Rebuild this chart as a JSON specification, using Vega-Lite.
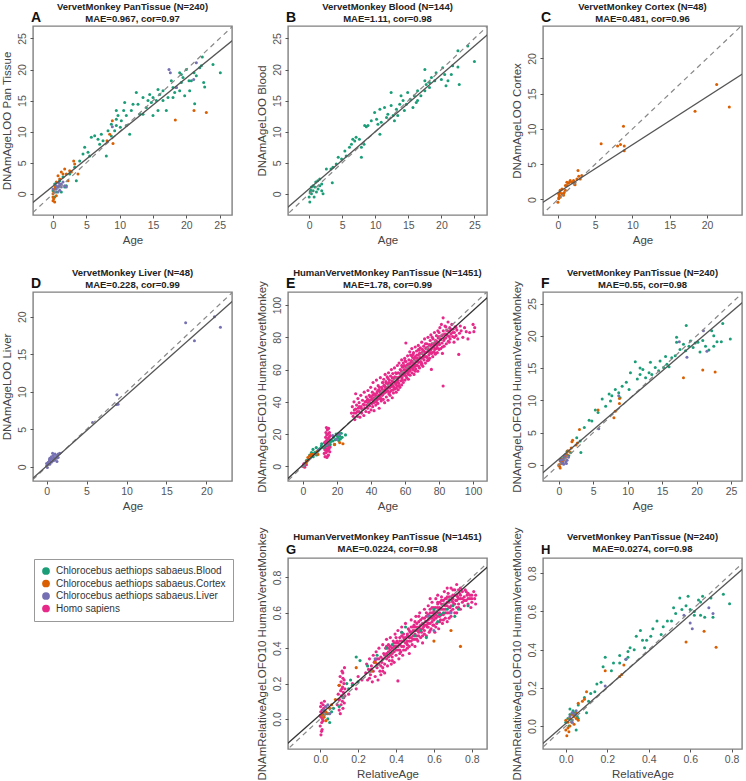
{
"$schema":"https://vega.github.io/schema/vega-lite/v6.json",
"padding":{"left":0,"top":0,"right":2,"bottom":0},
"background":"white",
"config":{
"view":{"stroke":"#808080","strokeWidth":1.4},
"font":"Liberation Sans",
"axis":{"domain":false,"grid":false,"tickColor":"#555","labelColor":"#555","titleColor":"#444","labelFont":"Liberation Sans","titleFont":"Liberation Sans","labelFontSize":10.5,"titleFontSize":11.5,"titleFontWeight":"normal","labelOverlap":false,"labelFlush":false},
"axisX":{"tickSize":3,"labelPadding":2,"titlePadding":4},
"axisY":{"tickSize":3,"labelAngle":-90,"labelAlign":"center","labelBaseline":"bottom","labelPadding":3,"titlePadding":5,"titleLimit":400},
"title":{"font":"Liberation Sans","fontSize":9.5,"fontWeight":"bold","color":"#222","offset":3,"lineHeight":12,"anchor":"middle"}
},
"datasets":{
"lines":[
{"panel":"A","kind":"identity","x":-5,"y":-5},{"panel":"A","kind":"identity","x":30,"y":30},{"panel":"A","kind":"fit","x":-5,"y":-3.1},{"panel":"A","kind":"fit","x":30,"y":27.35},
{"panel":"B","kind":"identity","x":-5,"y":-5},{"panel":"B","kind":"identity","x":30,"y":30},{"panel":"B","kind":"fit","x":-5,"y":-3.8},{"panel":"B","kind":"fit","x":30,"y":28.4},
{"panel":"C","kind":"identity","x":-5,"y":-5},{"panel":"C","kind":"identity","x":30,"y":30},{"panel":"C","kind":"fit","x":-5,"y":-2.43},{"panel":"C","kind":"fit","x":30,"y":21.37},
{"panel":"D","kind":"identity","x":-5,"y":-5},{"panel":"D","kind":"identity","x":30,"y":30},{"panel":"D","kind":"fit","x":-5,"y":-4.63},{"panel":"D","kind":"fit","x":30,"y":28.45},
{"panel":"E","kind":"identity","x":-20,"y":-20},{"panel":"E","kind":"identity","x":120,"y":120},{"panel":"E","kind":"fit","x":-20,"y":-18.2},{"panel":"E","kind":"fit","x":120,"y":115.8},
{"panel":"F","kind":"identity","x":-5,"y":-5},{"panel":"F","kind":"identity","x":30,"y":30},{"panel":"F","kind":"fit","x":-5,"y":-3.65},{"panel":"F","kind":"fit","x":30,"y":28.2},
{"panel":"G","kind":"identity","x":-0.3,"y":-0.3},{"panel":"G","kind":"identity","x":1,"y":1},{"panel":"G","kind":"fit","x":-0.3,"y":-0.26},{"panel":"G","kind":"fit","x":1,"y":0.971},
{"panel":"H","kind":"identity","x":-0.3,"y":-0.3},{"panel":"H","kind":"identity","x":1,"y":1},{"panel":"H","kind":"fit","x":-0.3,"y":-0.271},{"panel":"H","kind":"fit","x":1,"y":0.961}
],
"A":[
{"t":"B","x":25.1,"y":19.5},{"t":"B","x":24,"y":20.8},{"t":"B","x":22.4,"y":22},{"t":"B","x":22.6,"y":17.9},{"t":"B","x":22.75,"y":17.2},{"t":"B","x":21.15,"y":19.5},{"t":"B","x":21.25,"y":14.5},{"t":"B","x":20.4,"y":18.2},{"t":"B","x":20.5,"y":16.6},{"t":"B","x":20,"y":20},{"t":"B","x":19.5,"y":18.7},{"t":"B","x":19.25,"y":17.9},{"t":"B","x":19,"y":19.5},{"t":"B","x":18.5,"y":17.1},{"t":"B","x":18.25,"y":16.3},{"t":"B","x":17.75,"y":18.2},{"t":"B","x":17.25,"y":15.5},{"t":"B","x":18,"y":15.5},{"t":"B","x":16.5,"y":16.6},{"t":"B","x":16,"y":16},{"t":"B","x":15.75,"y":16.8},{"t":"B","x":15.5,"y":15},{"t":"B","x":15,"y":15.5},{"t":"B","x":14.75,"y":14.7},{"t":"B","x":14.25,"y":15},{"t":"B","x":14,"y":13.9},{"t":"B","x":13.5,"y":15.5},{"t":"B","x":13,"y":12.8},{"t":"B","x":12.5,"y":16.3},{"t":"B","x":12,"y":14.4},{"t":"B","x":11.75,"y":13.4},{"t":"B","x":11,"y":12.6},{"t":"B","x":10.75,"y":14.7},{"t":"B","x":10.6,"y":13.4},{"t":"B","x":10.25,"y":11.75},{"t":"B","x":10.1,"y":10.7},{"t":"B","x":9.75,"y":12.6},{"t":"B","x":9.5,"y":11},{"t":"B","x":9.25,"y":10.15},{"t":"B","x":8.75,"y":11.2},{"t":"B","x":8.25,"y":10.15},{"t":"B","x":7.5,"y":8.55},{"t":"B","x":8,"y":6.1},{"t":"B","x":7.25,"y":9.6},{"t":"B","x":6.75,"y":8.8},{"t":"B","x":6.25,"y":9.35},{"t":"B","x":5.75,"y":9.1},{"t":"B","x":5.25,"y":6.7},{"t":"B","x":4.5,"y":6.4},{"t":"B","x":4,"y":5.3},{"t":"B","x":3.25,"y":4.3},{"t":"B","x":3.5,"y":2.1},{"t":"B","x":2.5,"y":3.2},{"t":"B","x":2,"y":1.3},{"t":"B","x":1.5,"y":2.7},{"t":"B","x":1,"y":2.1},{"t":"B","x":0.75,"y":1.1},{"t":"B","x":0.25,"y":1.6},{"t":"B","x":0.5,"y":0.3},{"t":"B","x":0.25,"y":-0.5},{"t":"B","x":0,"y":0.5},{"t":"B","x":1.25,"y":0.3},{"t":"B","x":1.75,"y":1.1},{"t":"B","x":14.5,"y":16},{"t":"B","x":17,"y":13.4},{"t":"B","x":18,"y":17.1},{"t":"B","x":19.75,"y":15.8},{"t":"B","x":20.75,"y":18.2},{"t":"B","x":19,"y":16.6},{"t":"B","x":9.5,"y":13.4},{"t":"B","x":11.5,"y":9.6},{"t":"B","x":11,"y":11},{"t":"B","x":13.5,"y":12.8},{"t":"B","x":15,"y":12.6},{"t":"B","x":15.75,"y":13.4},{"t":"B","x":16.5,"y":15},{"t":"B","x":21.5,"y":19},{"t":"B","x":22,"y":20.3},{"t":"B","x":22.25,"y":20.6},{"t":"B","x":19.25,"y":19.2},{"t":"B","x":9.5,"y":12},{"t":"B","x":12.75,"y":14.4},{"t":"B","x":5.5,"y":6.1},{"t":"B","x":4.75,"y":7.5},{"t":"B","x":7,"y":8},{"t":"B","x":8.75,"y":9.3},
{"t":"C","x":21.15,"y":13.4},{"t":"C","x":23,"y":13.1},{"t":"C","x":18.35,"y":11.9},{"t":"C","x":8.9,"y":11.75},{"t":"C","x":8.5,"y":9.6},{"t":"C","x":8.1,"y":8.55},{"t":"C","x":9,"y":8.1},{"t":"C","x":3.1,"y":5.3},{"t":"C","x":3.25,"y":4.8},{"t":"C","x":2.5,"y":3.7},{"t":"C","x":1.75,"y":4},{"t":"C","x":1.25,"y":3.5},{"t":"C","x":1.5,"y":3.2},{"t":"C","x":0.75,"y":2.9},{"t":"C","x":1,"y":2.4},{"t":"C","x":0.5,"y":1.9},{"t":"C","x":0.25,"y":0.8},{"t":"C","x":0,"y":0},{"t":"C","x":0.1,"y":-0.8},{"t":"C","x":0.25,"y":-1.3},{"t":"C","x":0,"y":-0.5},{"t":"C","x":0.5,"y":-0.3},{"t":"C","x":2,"y":3.2},{"t":"C","x":2.75,"y":3.5},{"t":"C","x":0.15,"y":0.3},{"t":"C","x":0.35,"y":1.1},{"t":"C","x":1,"y":1.3},{"t":"C","x":2.25,"y":2.1},{"t":"C","x":3.75,"y":3.2},{"t":"C","x":0,"y":-1.1},
{"t":"L","x":17.4,"y":20},{"t":"L","x":17.6,"y":19.5},{"t":"L","x":21.5,"y":21.1},{"t":"L","x":21.1,"y":18.4},{"t":"L","x":18.5,"y":17.1},{"t":"L","x":8.9,"y":10.8},{"t":"L","x":0.75,"y":1.1},{"t":"L","x":1,"y":1.3},{"t":"L","x":1.25,"y":1.6},{"t":"L","x":0.5,"y":0.8},{"t":"L","x":1.5,"y":1.9},{"t":"L","x":0.25,"y":0.3},{"t":"L","x":0.75,"y":0.3},{"t":"L","x":1,"y":0.6},{"t":"L","x":1.25,"y":1.1},{"t":"L","x":0.5,"y":1.3},{"t":"L","x":0,"y":0.8},{"t":"L","x":0.9,"y":1.7},{"t":"L","x":1.75,"y":1.3},{"t":"L","x":2,"y":1.1}
],
"B":[
{"t":"B","x":25,"y":21.3},{"t":"B","x":24,"y":23.8},{"t":"B","x":22.5,"y":23},{"t":"B","x":22.7,"y":17.6},{"t":"B","x":22.5,"y":20.4},{"t":"B","x":21.7,"y":20.6},{"t":"B","x":21.5,"y":19.2},{"t":"B","x":21,"y":18.2},{"t":"B","x":20.5,"y":19.2},{"t":"B","x":20.7,"y":17.4},{"t":"B","x":20.2,"y":20.3},{"t":"B","x":20,"y":18.4},{"t":"B","x":19.2,"y":19.5},{"t":"B","x":19,"y":18.2},{"t":"B","x":18.5,"y":18.7},{"t":"B","x":18.2,"y":17.1},{"t":"B","x":17.7,"y":17.6},{"t":"B","x":17.5,"y":20},{"t":"B","x":17.5,"y":16.6},{"t":"B","x":16.9,"y":15.8},{"t":"B","x":16.4,"y":16.6},{"t":"B","x":16.2,"y":14.7},{"t":"B","x":15.9,"y":15.8},{"t":"B","x":15.7,"y":13.9},{"t":"B","x":15.3,"y":15.2},{"t":"B","x":14.9,"y":16.3},{"t":"B","x":14.7,"y":14.4},{"t":"B","x":14.4,"y":13.4},{"t":"B","x":13.9,"y":15.8},{"t":"B","x":13.7,"y":14.4},{"t":"B","x":13.4,"y":12.6},{"t":"B","x":13.2,"y":13.6},{"t":"B","x":12.9,"y":11.75},{"t":"B","x":12.4,"y":14.2},{"t":"B","x":12.4,"y":16.3},{"t":"B","x":11.9,"y":12.8},{"t":"B","x":11.7,"y":12.3},{"t":"B","x":11.4,"y":13.9},{"t":"B","x":10.9,"y":11.5},{"t":"B","x":10.7,"y":13.6},{"t":"B","x":10.7,"y":9.6},{"t":"B","x":10.2,"y":12},{"t":"B","x":9.9,"y":13.1},{"t":"B","x":9.4,"y":11.75},{"t":"B","x":8.9,"y":11},{"t":"B","x":8.65,"y":10.8},{"t":"B","x":8.4,"y":11},{"t":"B","x":8.3,"y":8},{"t":"B","x":7.9,"y":7.5},{"t":"B","x":7.9,"y":5.9},{"t":"B","x":7.6,"y":8.8},{"t":"B","x":7.1,"y":9.1},{"t":"B","x":6.6,"y":8.8},{"t":"B","x":6.4,"y":8},{"t":"B","x":6.1,"y":7.5},{"t":"B","x":5.6,"y":6.1},{"t":"B","x":5.4,"y":6.9},{"t":"B","x":4.9,"y":5.6},{"t":"B","x":4.4,"y":5.9},{"t":"B","x":4.1,"y":4.8},{"t":"B","x":3.6,"y":4.3},{"t":"B","x":3.5,"y":1.8},{"t":"B","x":3.3,"y":4},{"t":"B","x":2.6,"y":4},{"t":"B","x":1.9,"y":1.6},{"t":"B","x":1.6,"y":2.4},{"t":"B","x":1.3,"y":2.1},{"t":"B","x":1,"y":1.9},{"t":"B","x":0.6,"y":1.3},{"t":"B","x":0.35,"y":1.1},{"t":"B","x":0.15,"y":0.3},{"t":"B","x":0,"y":-0.5},{"t":"B","x":0.1,"y":-1.3},{"t":"B","x":0.35,"y":0},{"t":"B","x":0.6,"y":0.5},{"t":"B","x":0.85,"y":1.1},{"t":"B","x":1.1,"y":0.3},{"t":"B","x":1.35,"y":0.8},{"t":"B","x":1.6,"y":1.3},{"t":"B","x":1.9,"y":0.5},{"t":"B","x":2.1,"y":0},{"t":"B","x":0.25,"y":0.6},{"t":"B","x":0.75,"y":-0.5},{"t":"B","x":17.5,"y":18.2},{"t":"B","x":18.2,"y":17.9},{"t":"B","x":16.4,"y":15},{"t":"B","x":14.2,"y":15},{"t":"B","x":12.7,"y":12.6},{"t":"B","x":10.4,"y":11.2},{"t":"B","x":6.9,"y":8.5}
],
"C":[
{"t":"C","x":23,"y":13.1},{"t":"C","x":21.3,"y":16.3},{"t":"C","x":18.4,"y":12.5},{"t":"C","x":8.8,"y":10.4},{"t":"C","x":8.9,"y":7.6},{"t":"C","x":8.9,"y":6.9},{"t":"C","x":8.4,"y":7.8},{"t":"C","x":8,"y":7.6},{"t":"C","x":5.8,"y":7.9},{"t":"C","x":3.2,"y":3.4},{"t":"C","x":2.8,"y":3.3},{"t":"C","x":2.7,"y":4.1},{"t":"C","x":2.55,"y":2.9},{"t":"C","x":2.1,"y":2.7},{"t":"C","x":1.9,"y":2.45},{"t":"C","x":1.65,"y":2.7},{"t":"C","x":1.4,"y":2.3},{"t":"C","x":1.2,"y":2.45},{"t":"C","x":1,"y":2},{"t":"C","x":1,"y":1.3},{"t":"C","x":0.75,"y":0.8},{"t":"C","x":0.55,"y":1.5},{"t":"C","x":0.3,"y":1},{"t":"C","x":0.2,"y":0.6},{"t":"C","x":0.1,"y":0.1},{"t":"C","x":0,"y":-0.4},{"t":"C","x":0.15,"y":0.3},{"t":"C","x":0.3,"y":0.3},{"t":"C","x":0.55,"y":0.8},{"t":"C","x":0.75,"y":0.6},{"t":"C","x":1.2,"y":2},{"t":"C","x":1.55,"y":2.45},{"t":"C","x":2.25,"y":2.3},{"t":"C","x":0.1,"y":0.8},{"t":"C","x":0.3,"y":1.3},{"t":"C","x":3,"y":2.9},{"t":"C","x":2.3,"y":2.1},{"t":"C","x":0.85,"y":1}
],
"D":[
{"t":"L","x":17.4,"y":19.2},{"t":"L","x":21,"y":20},{"t":"L","x":21.75,"y":18.6},{"t":"L","x":18.5,"y":16.8},{"t":"L","x":8.8,"y":9.6},{"t":"L","x":8.75,"y":8.3},{"t":"L","x":8.95,"y":8.35},{"t":"L","x":5.75,"y":5.9},{"t":"L","x":1.45,"y":1.7},{"t":"L","x":1.25,"y":1.5},{"t":"L","x":1.05,"y":1.25},{"t":"L","x":0.85,"y":1.5},{"t":"L","x":0.6,"y":1.35},{"t":"L","x":0.4,"y":1.15},{"t":"L","x":0.85,"y":0.8},{"t":"L","x":0.4,"y":0.8},{"t":"L","x":0.2,"y":0.6},{"t":"L","x":0,"y":0.1},{"t":"L","x":0.2,"y":0.35},{"t":"L","x":0.6,"y":0.6},{"t":"L","x":1.05,"y":0.9},{"t":"L","x":1.25,"y":1.15},{"t":"L","x":1.65,"y":1.8},{"t":"L","x":1.3,"y":0.7},{"t":"L","x":0,"y":0.45},{"t":"L","x":0.4,"y":0.35},{"t":"L","x":0.85,"y":1.15},{"t":"L","x":1.05,"y":1.7},{"t":"L","x":0.6,"y":1},{"t":"L","x":0.35,"y":0.9},{"t":"L","x":0.1,"y":-0.1},{"t":"L","x":1.45,"y":1.25},{"t":"L","x":0.75,"y":1.8}
],
"E":[
{"t":"H","x":28.5,"y":33},{"t":"H","x":29,"y":37},{"t":"H","x":29.5,"y":31},{"t":"H","x":30,"y":40},{"t":"H","x":30.2,"y":35},{"t":"H","x":30.5,"y":29},{"t":"H","x":31,"y":45},{"t":"H","x":31.2,"y":33},{"t":"H","x":31.5,"y":38},{"t":"H","x":32,"y":31},{"t":"H","x":32.3,"y":42},{"t":"H","x":32.5,"y":36},{"t":"H","x":33,"y":34},{"t":"H","x":33,"y":39.5},{"t":"H","x":33.5,"y":30.5},{"t":"H","x":34,"y":44},{"t":"H","x":34.2,"y":37},{"t":"H","x":34.5,"y":33},{"t":"H","x":35,"y":41},{"t":"H","x":35,"y":35.5},{"t":"H","x":35.5,"y":38.5},{"t":"H","x":35.8,"y":31.5},{"t":"H","x":36,"y":46},{"t":"H","x":36.3,"y":36},{"t":"H","x":36.5,"y":40},
{"t":"H","x":37,"y":34},{"t":"H","x":37.2,"y":43},{"t":"H","x":37.5,"y":38},{"t":"H","x":37.8,"y":41},{"t":"H","x":38,"y":36},{"t":"H","x":38.2,"y":47},{"t":"H","x":38.5,"y":39.5},{"t":"H","x":38.8,"y":33.5},{"t":"H","x":39,"y":44},{"t":"H","x":39.2,"y":37.5},{"t":"H","x":39.5,"y":41},{"t":"H","x":39.8,"y":49},{"t":"H","x":40,"y":35},{"t":"H","x":40.2,"y":43},{"t":"H","x":40.5,"y":39},{"t":"H","x":40.8,"y":46},{"t":"H","x":41,"y":37},{"t":"H","x":41.2,"y":52},{"t":"H","x":41.5,"y":42},{"t":"H","x":41.8,"y":34.5},{"t":"H","x":42,"y":45},{"t":"H","x":42.2,"y":40},{"t":"H","x":42.5,"y":48},{"t":"H","x":42.8,"y":38},{"t":"H","x":43,"y":43.5},{"t":"H","x":43.2,"y":53.5},{"t":"H","x":43.5,"y":41},{"t":"H","x":43.8,"y":46.5},{"t":"H","x":44,"y":39},{"t":"H","x":44.2,"y":50},{"t":"H","x":44.5,"y":44},{"t":"H","x":44.8,"y":36},{"t":"H","x":45,"y":47},{"t":"H","x":45.2,"y":42},{"t":"H","x":45.5,"y":55},{"t":"H","x":45.8,"y":45},{"t":"H","x":46,"y":40.5},{"t":"H","x":46.2,"y":49},{"t":"H","x":46.5,"y":44},{"t":"H","x":46.8,"y":52},
{"t":"H","x":47,"y":47},{"t":"H","x":47.2,"y":41.5},{"t":"H","x":47.5,"y":54},{"t":"H","x":47.8,"y":45.5},{"t":"H","x":48,"y":50},{"t":"H","x":48,"y":39.5},{"t":"H","x":48.3,"y":57},{"t":"H","x":48.5,"y":46},{"t":"H","x":48.8,"y":52.5},{"t":"H","x":49,"y":43},{"t":"H","x":49.2,"y":49},{"t":"H","x":49.5,"y":55.5},{"t":"H","x":49.8,"y":47},{"t":"H","x":50,"y":41},{"t":"H","x":50,"y":51},{"t":"H","x":50.3,"y":58},{"t":"H","x":50.5,"y":45},{"t":"H","x":50.8,"y":53.5},{"t":"H","x":51,"y":48.5},{"t":"H","x":51.2,"y":44},{"t":"H","x":51.5,"y":56},{"t":"H","x":51.8,"y":50.5},{"t":"H","x":52,"y":60},{"t":"H","x":52,"y":47},{"t":"H","x":52.3,"y":53},{"t":"H","x":52.5,"y":42.5},{"t":"H","x":52.8,"y":57.5},{"t":"H","x":53,"y":50},{"t":"H","x":53.2,"y":45.5},{"t":"H","x":53.5,"y":54.5},{"t":"H","x":53.8,"y":61},{"t":"H","x":54,"y":48},{"t":"H","x":54.2,"y":52},{"t":"H","x":54.5,"y":58},{"t":"H","x":54.8,"y":46},{"t":"H","x":55,"y":55},{"t":"H","x":55.2,"y":50},{"t":"H","x":55.5,"y":62.5},{"t":"H","x":55.8,"y":53.5},{"t":"H","x":56,"y":47.5},{"t":"H","x":56,"y":58},{"t":"H","x":56.3,"y":51.5},{"t":"H","x":56.5,"y":64},{"t":"H","x":56.8,"y":55.5},{"t":"H","x":57,"y":49},{"t":"H","x":57.2,"y":60},{"t":"H","x":57.5,"y":53},{"t":"H","x":57.8,"y":57},{"t":"H","x":58,"y":66},{"t":"H","x":58,"y":50.5},
{"t":"H","x":58.3,"y":55},{"t":"H","x":58.5,"y":61.5},{"t":"H","x":58.8,"y":58},{"t":"H","x":59,"y":52},{"t":"H","x":59,"y":64},{"t":"H","x":59.3,"y":56.5},{"t":"H","x":59.5,"y":60},{"t":"H","x":59.8,"y":67},{"t":"H","x":60,"y":53.5},{"t":"H","x":60,"y":62},{"t":"H","x":60.2,"y":57.5},{"t":"H","x":60.5,"y":76.5},{"t":"H","x":60.5,"y":65},{"t":"H","x":60.8,"y":59.5},{"t":"H","x":61,"y":55},{"t":"H","x":61.2,"y":63},{"t":"H","x":61.5,"y":68.5},{"t":"H","x":61.8,"y":58},{"t":"H","x":62,"y":61},{"t":"H","x":62,"y":54},{"t":"H","x":62.3,"y":66},{"t":"H","x":62.5,"y":59},{"t":"H","x":62.8,"y":71},{"t":"H","x":63,"y":63.5},{"t":"H","x":63,"y":56.5},{"t":"H","x":63.3,"y":69},{"t":"H","x":63.5,"y":61},{"t":"H","x":63.8,"y":65.5},{"t":"H","x":64,"y":58},{"t":"H","x":64,"y":73},{"t":"H","x":64.3,"y":62.5},{"t":"H","x":64.5,"y":67.5},{"t":"H","x":64.7,"y":69.4},{"t":"H","x":64.8,"y":60},{"t":"H","x":65,"y":70.5},{"t":"H","x":65,"y":64},{"t":"H","x":65.3,"y":57},{"t":"H","x":65.5,"y":66.5},{"t":"H","x":65.8,"y":62},{"t":"H","x":66,"y":74},{"t":"H","x":66,"y":68},{"t":"H","x":66.3,"y":60.5},{"t":"H","x":66.5,"y":65},{"t":"H","x":66.8,"y":71.5},{"t":"H","x":67,"y":63},{"t":"H","x":67.2,"y":67},{"t":"H","x":67.5,"y":59},{"t":"H","x":67.8,"y":75},{"t":"H","x":68,"y":69},{"t":"H","x":68,"y":64.5},{"t":"H","x":68.3,"y":72},{"t":"H","x":68.5,"y":61},{"t":"H","x":68.8,"y":67.5},{"t":"H","x":69,"y":73.5},{"t":"H","x":69.2,"y":65},
{"t":"H","x":69.5,"y":70},{"t":"H","x":69.6,"y":63.2},{"t":"H","x":69.8,"y":77},{"t":"H","x":70,"y":67},{"t":"H","x":70.2,"y":72.5},{"t":"H","x":70.5,"y":62},{"t":"H","x":70.8,"y":69},{"t":"H","x":71,"y":74.5},{"t":"H","x":71.2,"y":66},{"t":"H","x":71.5,"y":79},{"t":"H","x":71.8,"y":70.5},{"t":"H","x":72,"y":64},{"t":"H","x":72.2,"y":73},{"t":"H","x":72.5,"y":68},{"t":"H","x":72.8,"y":76},{"t":"H","x":73,"y":71},{"t":"H","x":73.2,"y":65.5},{"t":"H","x":73.5,"y":80},{"t":"H","x":73.8,"y":72.5},{"t":"H","x":74,"y":69},{"t":"H","x":74.2,"y":75.5},{"t":"H","x":74.5,"y":67},{"t":"H","x":74.8,"y":78},{"t":"H","x":75,"y":72},{"t":"H","x":75.2,"y":81.5},{"t":"H","x":75.5,"y":60.1},{"t":"H","x":75.5,"y":70},{"t":"H","x":75.8,"y":76},{"t":"H","x":76,"y":73.5},{"t":"H","x":76.3,"y":68},{"t":"H","x":76.5,"y":79},{"t":"H","x":76.8,"y":74.5},{"t":"H","x":77,"y":71},{"t":"H","x":77.3,"y":83},{"t":"H","x":77.5,"y":76.5},{"t":"H","x":77.8,"y":69.5},{"t":"H","x":78,"y":78},{"t":"H","x":78.3,"y":73},{"t":"H","x":78.5,"y":81},{"t":"H","x":78.8,"y":75},{"t":"H","x":79,"y":70.5},{"t":"H","x":79.3,"y":84},{"t":"H","x":79.5,"y":77},{"t":"H","x":80,"y":72.5},{"t":"H","x":80,"y":80.5},{"t":"H","x":80.3,"y":75.5},{"t":"H","x":80.5,"y":86},{"t":"H","x":80.8,"y":78.5},{"t":"H","x":81,"y":73},{"t":"H","x":81.4,"y":88},
{"t":"H","x":81.5,"y":81},{"t":"H","x":81.8,"y":76.5},{"t":"H","x":82,"y":70},{"t":"H","x":82.4,"y":49.8},{"t":"H","x":82.4,"y":92.1},{"t":"H","x":82.5,"y":84},{"t":"H","x":82.8,"y":78},{"t":"H","x":83,"y":74.5},{"t":"H","x":83.3,"y":82},{"t":"H","x":83.5,"y":87},{"t":"H","x":84,"y":79.5},{"t":"H","x":84.3,"y":76},{"t":"H","x":84.5,"y":84.5},{"t":"H","x":85,"y":81},{"t":"H","x":85.3,"y":89.5},{"t":"H","x":85.5,"y":77.5},{"t":"H","x":86,"y":83.5},{"t":"H","x":86.3,"y":86},{"t":"H","x":86.5,"y":79},{"t":"H","x":87,"y":82},{"t":"H","x":87.5,"y":88},{"t":"H","x":88,"y":80.5},{"t":"H","x":88.3,"y":85},{"t":"H","x":88.8,"y":77},{"t":"H","x":89,"y":83},{"t":"H","x":89.5,"y":86.5},{"t":"H","x":90,"y":81},{"t":"H","x":90.5,"y":84.5},{"t":"H","x":91,"y":79},{"t":"H","x":91.6,"y":69.4},{"t":"H","x":92,"y":82.5},{"t":"H","x":92.5,"y":87},{"t":"H","x":93,"y":84},{"t":"H","x":94,"y":80},{"t":"H","x":95,"y":86},{"t":"H","x":96,"y":83.5},{"t":"H","x":97,"y":79},{"t":"H","x":98,"y":83},{"t":"H","x":100,"y":88},{"t":"H","x":100.5,"y":83.5},{"t":"H","x":101,"y":86},
{"t":"H","x":40.5,"y":41.5},{"t":"H","x":41,"y":44},{"t":"H","x":41.5,"y":39.5},{"t":"H","x":42,"y":42.5},{"t":"H","x":42.5,"y":44.5},{"t":"H","x":43,"y":40},{"t":"H","x":43.5,"y":45.5},{"t":"H","x":44,"y":42},{"t":"H","x":44.5,"y":47.5},{"t":"H","x":45,"y":43.5},{"t":"H","x":45.5,"y":46},{"t":"H","x":46,"y":42},{"t":"H","x":46.5,"y":48},{"t":"H","x":47,"y":44.5},{"t":"H","x":47.5,"y":50},{"t":"H","x":48,"y":47.5},{"t":"H","x":48.5,"y":49},{"t":"H","x":49,"y":51.5},{"t":"H","x":49.5,"y":46.5},{"t":"H","x":50,"y":49},{"t":"H","x":50.5,"y":52},{"t":"H","x":51,"y":46},{"t":"H","x":51.5,"y":51.5},{"t":"H","x":52,"y":49.5},{"t":"H","x":52.5,"y":55},{"t":"H","x":53,"y":52.5},{"t":"H","x":53.5,"y":49},{"t":"H","x":54,"y":55.5},{"t":"H","x":54.5,"y":51},{"t":"H","x":55,"y":57.5},{"t":"H","x":55.5,"y":52.5},{"t":"H","x":56,"y":55},{"t":"H","x":56.5,"y":50},{"t":"H","x":57,"y":57.5},{"t":"H","x":57.5,"y":55.5},{"t":"H","x":58,"y":59},{"t":"H","x":58.5,"y":53.5},{"t":"H","x":59,"y":57.5},{"t":"H","x":59.5,"y":62.5},{"t":"H","x":60,"y":59.5},{"t":"H","x":60.5,"y":56},{"t":"H","x":61,"y":61},{"t":"H","x":61.5,"y":58.5},{"t":"H","x":62,"y":63.5},{"t":"H","x":62.5,"y":62},{"t":"H","x":63,"y":59.5},{"t":"H","x":63.5,"y":64.5},{"t":"H","x":64,"y":61},{"t":"H","x":64.5,"y":65},{"t":"H","x":65,"y":61.5},{"t":"H","x":65.5,"y":63.5},{"t":"H","x":66,"y":66.5},{"t":"H","x":66.5,"y":62.5},{"t":"H","x":67,"y":69},{"t":"H","x":67.5,"y":65.5},{"t":"H","x":68,"y":62},{"t":"H","x":68.5,"y":70},{"t":"H","x":69,"y":67},{"t":"H","x":69.5,"y":64.5},{"t":"H","x":70,"y":70.5},{"t":"H","x":70.5,"y":67.5},{"t":"H","x":71,"y":71.5},{"t":"H","x":71.5,"y":68},{"t":"H","x":72,"y":70.5},{"t":"H","x":72.5,"y":73.5},{"t":"H","x":73,"y":67.5},{"t":"H","x":73.5,"y":74},{"t":"H","x":74,"y":72},{"t":"H","x":74.5,"y":70.5},{"t":"H","x":75,"y":75},{"t":"H","x":75.5,"y":73},{"t":"H","x":76,"y":70.5},{"t":"H","x":76.5,"y":76},{"t":"H","x":77,"y":74},{"t":"H","x":77.5,"y":72.5},{"t":"H","x":78,"y":75.5},{"t":"H","x":78.5,"y":77.5},{"t":"H","x":79,"y":73.5},{"t":"H","x":79.5,"y":79.5},{"t":"H","x":80,"y":76.5},{"t":"H","x":81,"y":79},{"t":"H","x":82,"y":81.5},{"t":"H","x":83,"y":79},{"t":"H","x":84,"y":82},{"t":"H","x":85,"y":84},{"t":"H","x":86,"y":80.5},{"t":"H","x":87,"y":85},{"t":"H","x":88,"y":83},{"t":"H","x":89,"y":80},{"t":"H","x":90,"y":86},{"t":"H","x":36,"y":38},{"t":"H","x":37,"y":40},{"t":"H","x":38,"y":41.5},{"t":"H","x":39,"y":39.5},{"t":"H","x":39.5,"y":43},{"t":"H","x":34,"y":36},{"t":"H","x":33,"y":37},{"t":"H","x":32,"y":34},{"t":"H","x":31,"y":35.5},{"t":"H","x":30,"y":33},{"t":"H","x":45,"y":49},{"t":"H","x":47,"y":52},{"t":"H","x":50,"y":54.5},{"t":"H","x":53,"y":47.5},{"t":"H","x":55,"y":48.5},{"t":"H","x":58,"y":62.5},{"t":"H","x":60,"y":65.5},{"t":"H","x":62,"y":57},{"t":"H","x":64,"y":68.5},{"t":"H","x":66,"y":59},{"t":"H","x":68,"y":72.5},{"t":"H","x":70,"y":63.5},{"t":"H","x":72,"y":76},{"t":"H","x":74,"y":66},{"t":"H","x":76,"y":80},{"t":"H","x":78,"y":70},{"t":"H","x":80,"y":83},{"t":"H","x":82,"y":74},{"t":"H","x":84,"y":86.5},{"t":"H","x":86,"y":77},
{"t":"H","x":12.5,"y":8},{"t":"H","x":12.8,"y":12},{"t":"H","x":13,"y":6},{"t":"H","x":13,"y":15},{"t":"H","x":13.2,"y":10},{"t":"H","x":13.3,"y":18},{"t":"H","x":13.5,"y":13},{"t":"H","x":13.5,"y":21},{"t":"H","x":13.6,"y":8.5},{"t":"H","x":13.8,"y":16},{"t":"H","x":14,"y":11},{"t":"H","x":14,"y":19.5},{"t":"H","x":14.1,"y":5.5},{"t":"H","x":14.2,"y":14},{"t":"H","x":14.3,"y":22.5},{"t":"H","x":14.5,"y":9.5},{"t":"H","x":14.5,"y":17},{"t":"H","x":14.7,"y":12.5},{"t":"H","x":14.8,"y":20},{"t":"H","x":15,"y":7},{"t":"H","x":15,"y":15},{"t":"H","x":15.1,"y":23.5},{"t":"H","x":15.2,"y":10.5},{"t":"H","x":15.3,"y":18},{"t":"H","x":15.5,"y":13.5},{"t":"H","x":15.6,"y":21},{"t":"H","x":15.8,"y":9},{"t":"H","x":15.8,"y":16.5},{"t":"H","x":16,"y":12},{"t":"H","x":16,"y":19},{"t":"H","x":12.7,"y":14.5},{"t":"H","x":13.8,"y":24},{"t":"H","x":14.6,"y":6.5},{"t":"H","x":12.9,"y":10.5},{"t":"H","x":15.4,"y":11.5},
{"t":"H","x":0,"y":0},{"t":"H","x":0.5,"y":1.5},{"t":"H","x":1,"y":-0.5},{"t":"H","x":1.5,"y":2},{"t":"H","x":0.3,"y":0.8},{"t":"H","x":2,"y":1},
{"t":"B","x":4,"y":7},{"t":"B","x":5,"y":8.5},{"t":"B","x":5.9,"y":10.5},{"t":"B","x":6.9,"y":8.5},{"t":"B","x":7.8,"y":11.6},{"t":"B","x":8.8,"y":9.5},{"t":"B","x":10.8,"y":12.6},{"t":"B","x":9.5,"y":10.5},{"t":"B","x":11,"y":14},{"t":"B","x":12,"y":11.5},{"t":"B","x":16,"y":15},{"t":"B","x":17,"y":16},{"t":"B","x":17.6,"y":15.7},{"t":"B","x":18.6,"y":13.6},{"t":"B","x":18,"y":18},{"t":"B","x":19,"y":16.5},{"t":"B","x":20,"y":19},{"t":"B","x":20.6,"y":17.8},{"t":"B","x":21.6,"y":18.8},{"t":"B","x":22,"y":17},{"t":"B","x":21,"y":16},{"t":"B","x":3,"y":4},{"t":"B","x":2,"y":3.5},{"t":"B","x":1,"y":1.5},{"t":"B","x":6,"y":6},{"t":"B","x":8,"y":7},{"t":"B","x":10,"y":11},{"t":"B","x":14,"y":13},{"t":"B","x":16,"y":13.5},{"t":"B","x":19.5,"y":20},{"t":"B","x":22.5,"y":20.5},{"t":"B","x":23,"y":18},{"t":"B","x":25,"y":19.5},
{"t":"C","x":2,"y":2.3},{"t":"C","x":2.5,"y":3.3},{"t":"C","x":2.9,"y":5.4},{"t":"C","x":3.9,"y":6.4},{"t":"C","x":4.9,"y":7.4},{"t":"C","x":8.8,"y":7.4},{"t":"C","x":8,"y":9},{"t":"C","x":21.6,"y":14.7},{"t":"C","x":23.5,"y":14},{"t":"C","x":18.5,"y":13.5},{"t":"C","x":1,"y":1},{"t":"C","x":0.5,"y":0.2},{"t":"C","x":1.5,"y":2},{"t":"C","x":6,"y":7.5},
{"t":"L","x":21.2,"y":19.8},{"t":"L","x":19.6,"y":16.7},{"t":"L","x":13.7,"y":13.6},{"t":"L","x":17.5,"y":19},{"t":"L","x":21,"y":20.5},{"t":"L","x":9,"y":10},{"t":"L","x":1,"y":1.5},{"t":"L","x":0.8,"y":0.6}
],
"F":[
{"t":"B","x":24.9,"y":19.5},{"t":"B","x":23.8,"y":21.9},{"t":"B","x":18.5,"y":21.6},{"t":"B","x":22.2,"y":20.8},{"t":"B","x":22.5,"y":20},{"t":"B","x":22.97,"y":19.1},{"t":"B","x":23.6,"y":19.1},{"t":"B","x":20.9,"y":19.3},{"t":"B","x":20.2,"y":19},{"t":"B","x":19.5,"y":18.2},{"t":"B","x":18.9,"y":18.4},{"t":"B","x":18.4,"y":17.7},{"t":"B","x":18.1,"y":18.7},{"t":"B","x":17.1,"y":19.8},{"t":"B","x":17.1,"y":19},{"t":"B","x":16.9,"y":16.9},{"t":"B","x":16.4,"y":16.6},{"t":"B","x":15.7,"y":15.6},{"t":"B","x":15.2,"y":15.1},{"t":"B","x":14.7,"y":16.1},{"t":"B","x":14.5,"y":14.6},{"t":"B","x":14,"y":15.1},{"t":"B","x":13.5,"y":14},{"t":"B","x":13.1,"y":14.3},{"t":"B","x":12.6,"y":13.5},{"t":"B","x":12.2,"y":14.8},{"t":"B","x":11.8,"y":14},{"t":"B","x":11.4,"y":13.3},{"t":"B","x":11.1,"y":16},{"t":"B","x":10.4,"y":14.3},{"t":"B","x":10.2,"y":11.7},{"t":"B","x":9.8,"y":12.8},{"t":"B","x":9.2,"y":12.2},{"t":"B","x":8.7,"y":11.2},{"t":"B","x":8.2,"y":11.7},{"t":"B","x":7.7,"y":10.7},{"t":"B","x":7.3,"y":11},{"t":"B","x":6.8,"y":9.1},{"t":"B","x":6.3,"y":10.2},{"t":"B","x":5.7,"y":8.1},{"t":"B","x":5.3,"y":8.5},{"t":"B","x":4.8,"y":6.8},{"t":"B","x":4.4,"y":6.9},{"t":"B","x":3.7,"y":5.8},{"t":"B","x":3.2,"y":1.9},{"t":"B","x":3.1,"y":3.7},{"t":"B","x":2.6,"y":4.2},{"t":"B","x":1.7,"y":1.9},{"t":"B","x":1,"y":1.65},{"t":"B","x":0.7,"y":1.1},{"t":"B","x":0.5,"y":0.6},{"t":"B","x":0.25,"y":0.9},{"t":"B","x":1.45,"y":1.4},{"t":"B","x":1.2,"y":2.1},{"t":"B","x":17.6,"y":17.9},{"t":"B","x":19.1,"y":19.2},{"t":"B","x":21.3,"y":18.4},{"t":"B","x":22.5,"y":18.4},{"t":"B","x":11.8,"y":15},{"t":"B","x":13.3,"y":15.9},{"t":"B","x":8.9,"y":10.4},{"t":"B","x":7.5,"y":9.9},{"t":"B","x":15.5,"y":16.8},{"t":"B","x":16,"y":15.2},{"t":"B","x":20.5,"y":17.5},{"t":"B","x":21.8,"y":17.8},{"t":"B","x":19.8,"y":18.9},
{"t":"C","x":20.9,"y":14.7},{"t":"C","x":22.7,"y":14.4},{"t":"C","x":18.1,"y":13.5},{"t":"C","x":5.7,"y":8.5},{"t":"C","x":8.8,"y":9.5},{"t":"C","x":8.8,"y":10.3},{"t":"C","x":8,"y":7.3},{"t":"C","x":8.2,"y":8.3},{"t":"C","x":3,"y":5.5},{"t":"C","x":2,"y":3.8},{"t":"C","x":1.9,"y":3.6},{"t":"C","x":1.8,"y":2.6},{"t":"C","x":1.5,"y":2.1},{"t":"C","x":1.2,"y":1.6},{"t":"C","x":1,"y":1.2},{"t":"C","x":0.7,"y":0.8},{"t":"C","x":0.5,"y":0.5},{"t":"C","x":0.3,"y":0.2},{"t":"C","x":0.1,"y":-0.2},{"t":"C","x":0.2,"y":-0.5},{"t":"C","x":0,"y":0},{"t":"C","x":0.4,"y":0.9},{"t":"C","x":0.8,"y":1.4},{"t":"C","x":2.5,"y":3.1},{"t":"C","x":2.7,"y":3.4},{"t":"C","x":1.3,"y":2.2},{"t":"C","x":0.6,"y":0.3},{"t":"C","x":0.2,"y":0.6},
{"t":"L","x":17.5,"y":19.1},{"t":"L","x":21,"y":20.8},{"t":"L","x":21.5,"y":17.6},{"t":"L","x":18.6,"y":16.7},{"t":"L","x":8.7,"y":10.7},{"t":"L","x":5.8,"y":5.6},{"t":"L","x":0.8,"y":1},{"t":"L","x":1,"y":0.5},{"t":"L","x":0.6,"y":0.8},{"t":"L","x":1.2,"y":0.7},{"t":"L","x":0.4,"y":0.3},{"t":"L","x":1.4,"y":1.2},{"t":"L","x":0.9,"y":1.5},{"t":"L","x":0.2,"y":0.7},{"t":"L","x":1.1,"y":0.2},{"t":"L","x":0.7,"y":0.1}
],
"G":[
{"t":"H","x":0.24,"y":0.26},{"t":"H","x":0.245,"y":0.31},{"t":"H","x":0.25,"y":0.22},{"t":"H","x":0.255,"y":0.28},{"t":"H","x":0.26,"y":0.34},{"t":"H","x":0.265,"y":0.25},{"t":"H","x":0.27,"y":0.3},{"t":"H","x":0.275,"y":0.21},{"t":"H","x":0.28,"y":0.36},{"t":"H","x":0.28,"y":0.27},{"t":"H","x":0.285,"y":0.32},{"t":"H","x":0.29,"y":0.24},{"t":"H","x":0.295,"y":0.38},{"t":"H","x":0.3,"y":0.29},{"t":"H","x":0.3,"y":0.34},{"t":"H","x":0.305,"y":0.22},{"t":"H","x":0.31,"y":0.31},{"t":"H","x":0.31,"y":0.4},{"t":"H","x":0.315,"y":0.27},{"t":"H","x":0.32,"y":0.35},{"t":"H","x":0.32,"y":0.25},{"t":"H","x":0.325,"y":0.32},{"t":"H","x":0.33,"y":0.42},{"t":"H","x":0.33,"y":0.29},{"t":"H","x":0.335,"y":0.37},{"t":"H","x":0.34,"y":0.31},{"t":"H","x":0.34,"y":0.26},{"t":"H","x":0.345,"y":0.4},{"t":"H","x":0.35,"y":0.34},{"t":"H","x":0.35,"y":0.45},
{"t":"H","x":0.355,"y":0.3},{"t":"H","x":0.36,"y":0.38},{"t":"H","x":0.36,"y":0.42},{"t":"H","x":0.365,"y":0.33},{"t":"H","x":0.37,"y":0.36},{"t":"H","x":0.37,"y":0.46},{"t":"H","x":0.375,"y":0.31},{"t":"H","x":0.38,"y":0.4},{"t":"H","x":0.38,"y":0.35},{"t":"H","x":0.385,"y":0.44},{"t":"H","x":0.39,"y":0.38},{"t":"H","x":0.39,"y":0.32},{"t":"H","x":0.395,"y":0.48},{"t":"H","x":0.4,"y":0.41},{"t":"H","x":0.4,"y":0.36},{"t":"H","x":0.405,"y":0.44},{"t":"H","x":0.41,"y":0.215},{"t":"H","x":0.41,"y":0.39},{"t":"H","x":0.41,"y":0.5},{"t":"H","x":0.415,"y":0.34},{"t":"H","x":0.42,"y":0.42},{"t":"H","x":0.42,"y":0.46},{"t":"H","x":0.425,"y":0.38},{"t":"H","x":0.43,"y":0.44},{"t":"H","x":0.43,"y":0.52},{"t":"H","x":0.435,"y":0.36},{"t":"H","x":0.44,"y":0.41},{"t":"H","x":0.44,"y":0.48},{"t":"H","x":0.445,"y":0.45},{"t":"H","x":0.45,"y":0.39},{"t":"H","x":0.45,"y":0.54},{"t":"H","x":0.455,"y":0.43},{"t":"H","x":0.46,"y":0.47},{"t":"H","x":0.46,"y":0.4},{"t":"H","x":0.465,"y":0.51},{"t":"H","x":0.47,"y":0.44},{"t":"H","x":0.47,"y":0.37},{"t":"H","x":0.475,"y":0.49},{"t":"H","x":0.48,"y":0.56},{"t":"H","x":0.48,"y":0.46},{"t":"H","x":0.485,"y":0.42},{"t":"H","x":0.49,"y":0.5},{"t":"H","x":0.49,"y":0.45},{"t":"H","x":0.495,"y":0.53},{"t":"H","x":0.5,"y":0.48},{"t":"H","x":0.5,"y":0.41},{"t":"H","x":0.505,"y":0.58},{"t":"H","x":0.51,"y":0.47},{"t":"H","x":0.51,"y":0.52},{"t":"H","x":0.515,"y":0.44},{"t":"H","x":0.52,"y":0.55},{"t":"H","x":0.52,"y":0.5},{"t":"H","x":0.525,"y":0.6},{"t":"H","x":0.53,"y":0.46},{"t":"H","x":0.53,"y":0.53},{"t":"H","x":0.535,"y":0.49},{"t":"H","x":0.54,"y":0.57},{"t":"H","x":0.54,"y":0.43},{"t":"H","x":0.545,"y":0.52},{"t":"H","x":0.55,"y":0.62},
{"t":"H","x":0.55,"y":0.5},{"t":"H","x":0.555,"y":0.55},{"t":"H","x":0.56,"y":0.47},{"t":"H","x":0.56,"y":0.58},{"t":"H","x":0.565,"y":0.52},{"t":"H","x":0.57,"y":0.64},{"t":"H","x":0.57,"y":0.56},{"t":"H","x":0.575,"y":0.49},{"t":"H","x":0.58,"y":0.6},{"t":"H","x":0.58,"y":0.54},{"t":"H","x":0.585,"y":0.51},{"t":"H","x":0.59,"y":0.57},{"t":"H","x":0.59,"y":0.66},{"t":"H","x":0.595,"y":0.53},{"t":"H","x":0.6,"y":0.61},{"t":"H","x":0.6,"y":0.56},{"t":"H","x":0.605,"y":0.49},{"t":"H","x":0.61,"y":0.59},{"t":"H","x":0.61,"y":0.68},{"t":"H","x":0.615,"y":0.54},{"t":"H","x":0.62,"y":0.63},{"t":"H","x":0.62,"y":0.58},{"t":"H","x":0.625,"y":0.51},{"t":"H","x":0.63,"y":0.66},{"t":"H","x":0.63,"y":0.6},{"t":"H","x":0.635,"y":0.56},{"t":"H","x":0.64,"y":0.69},{"t":"H","x":0.64,"y":0.62},{"t":"H","x":0.645,"y":0.54},{"t":"H","x":0.65,"y":0.65},{"t":"H","x":0.65,"y":0.59},{"t":"H","x":0.655,"y":0.72},{"t":"H","x":0.66,"y":0.62},{"t":"H","x":0.66,"y":0.57},{"t":"H","x":0.665,"y":0.68},{"t":"H","x":0.67,"y":0.64},{"t":"H","x":0.67,"y":0.55},{"t":"H","x":0.675,"y":0.71},{"t":"H","x":0.68,"y":0.66},{"t":"H","x":0.68,"y":0.6},{"t":"H","x":0.685,"y":0.63},{"t":"H","x":0.69,"y":0.74},{"t":"H","x":0.69,"y":0.58},{"t":"H","x":0.695,"y":0.67},{"t":"H","x":0.7,"y":0.62},{"t":"H","x":0.7,"y":0.7},{"t":"H","x":0.705,"y":0.65},{"t":"H","x":0.71,"y":0.6},{"t":"H","x":0.71,"y":0.73},{"t":"H","x":0.715,"y":0.67},{"t":"H","x":0.72,"y":0.63},{"t":"H","x":0.72,"y":0.76},{"t":"H","x":0.725,"y":0.69},{"t":"H","x":0.73,"y":0.65},{"t":"H","x":0.735,"y":0.71},{"t":"H","x":0.74,"y":0.62},{"t":"H","x":0.74,"y":0.68},{"t":"H","x":0.75,"y":0.72},{"t":"H","x":0.75,"y":0.66},{"t":"H","x":0.76,"y":0.69},
{"t":"H","x":0.76,"y":0.64},{"t":"H","x":0.765,"y":0.73},{"t":"H","x":0.77,"y":0.67},{"t":"H","x":0.775,"y":0.7},{"t":"H","x":0.78,"y":0.65},{"t":"H","x":0.78,"y":0.71},{"t":"H","x":0.79,"y":0.68},{"t":"H","x":0.795,"y":0.63},{"t":"H","x":0.8,"y":0.7},{"t":"H","x":0.8,"y":0.66},{"t":"H","x":0.81,"y":0.72},{"t":"H","x":0.815,"y":0.68},{"t":"H","x":0.82,"y":0.7},{"t":"H","x":0.82,"y":0.65},{"t":"H","x":0.67,"y":0.74},{"t":"H","x":0.62,"y":0.7},{"t":"H","x":0.58,"y":0.68},
{"t":"H","x":0.37,"y":0.41},{"t":"H","x":0.39,"y":0.43},{"t":"H","x":0.42,"y":0.39},{"t":"H","x":0.44,"y":0.44},{"t":"H","x":0.46,"y":0.44},{"t":"H","x":0.47,"y":0.5},{"t":"H","x":0.48,"y":0.49},{"t":"H","x":0.5,"y":0.52},{"t":"H","x":0.51,"y":0.5},{"t":"H","x":0.52,"y":0.47},{"t":"H","x":0.53,"y":0.56},{"t":"H","x":0.54,"y":0.51},{"t":"H","x":0.55,"y":0.53},{"t":"H","x":0.56,"y":0.53},{"t":"H","x":0.57,"y":0.52},{"t":"H","x":0.58,"y":0.57},{"t":"H","x":0.59,"y":0.6},{"t":"H","x":0.6,"y":0.58},{"t":"H","x":0.61,"y":0.63},{"t":"H","x":0.62,"y":0.6},{"t":"H","x":0.63,"y":0.58},{"t":"H","x":0.64,"y":0.65},{"t":"H","x":0.65,"y":0.62},{"t":"H","x":0.66,"y":0.65},{"t":"H","x":0.67,"y":0.6},{"t":"H","x":0.68,"y":0.69},{"t":"H","x":0.69,"y":0.64},{"t":"H","x":0.7,"y":0.66},{"t":"H","x":0.72,"y":0.7},{"t":"H","x":0.73,"y":0.68},{"t":"H","x":0.4,"y":0.46},{"t":"H","x":0.43,"y":0.47},{"t":"H","x":0.45,"y":0.46},{"t":"H","x":0.49,"y":0.47},{"t":"H","x":0.52,"y":0.52},{"t":"H","x":0.55,"y":0.53},{"t":"H","x":0.57,"y":0.59},{"t":"H","x":0.6,"y":0.63},{"t":"H","x":0.63,"y":0.63},{"t":"H","x":0.66,"y":0.6},
{"t":"H","x":0.3,"y":0.31},{"t":"H","x":0.31,"y":0.34},{"t":"H","x":0.32,"y":0.3},{"t":"H","x":0.33,"y":0.34},{"t":"H","x":0.34,"y":0.36},{"t":"H","x":0.35,"y":0.37},{"t":"H","x":0.36,"y":0.35},{"t":"H","x":0.37,"y":0.39},{"t":"H","x":0.38,"y":0.37},{"t":"H","x":0.39,"y":0.41},{"t":"H","x":0.4,"y":0.39},{"t":"H","x":0.41,"y":0.43},{"t":"H","x":0.41,"y":0.41},{"t":"H","x":0.42,"y":0.44},{"t":"H","x":0.43,"y":0.41},{"t":"H","x":0.44,"y":0.46},{"t":"H","x":0.45,"y":0.43},{"t":"H","x":0.46,"y":0.48},{"t":"H","x":0.47,"y":0.46},{"t":"H","x":0.48,"y":0.44},{"t":"H","x":0.49,"y":0.52},{"t":"H","x":0.5,"y":0.5},{"t":"H","x":0.5,"y":0.45},{"t":"H","x":0.51,"y":0.54},{"t":"H","x":0.52,"y":0.49},{"t":"H","x":0.53,"y":0.51},{"t":"H","x":0.54,"y":0.54},{"t":"H","x":0.55,"y":0.57},{"t":"H","x":0.56,"y":0.55},{"t":"H","x":0.57,"y":0.54},{"t":"H","x":0.58,"y":0.62},{"t":"H","x":0.59,"y":0.55},{"t":"H","x":0.6,"y":0.6},{"t":"H","x":0.61,"y":0.57},{"t":"H","x":0.62,"y":0.65},{"t":"H","x":0.63,"y":0.62},{"t":"H","x":0.64,"y":0.59},{"t":"H","x":0.65,"y":0.67},{"t":"H","x":0.66,"y":0.64},{"t":"H","x":0.67,"y":0.66},{"t":"H","x":0.68,"y":0.63},{"t":"H","x":0.69,"y":0.69},{"t":"H","x":0.7,"y":0.68},{"t":"H","x":0.71,"y":0.65},{"t":"H","x":0.72,"y":0.67},{"t":"H","x":0.73,"y":0.73},{"t":"H","x":0.74,"y":0.7},{"t":"H","x":0.75,"y":0.68},{"t":"H","x":0.77,"y":0.72},{"t":"H","x":0.79,"y":0.7},{"t":"H","x":0.36,"y":0.4},{"t":"H","x":0.38,"y":0.33},{"t":"H","x":0.4,"y":0.43},{"t":"H","x":0.42,"y":0.37},{"t":"H","x":0.44,"y":0.39},{"t":"H","x":0.46,"y":0.42},{"t":"H","x":0.48,"y":0.52},{"t":"H","x":0.5,"y":0.55},{"t":"H","x":0.52,"y":0.58},{"t":"H","x":0.54,"y":0.47},{"t":"H","x":0.56,"y":0.6},{"t":"H","x":0.58,"y":0.5},{"t":"H","x":0.6,"y":0.53},{"t":"H","x":0.62,"y":0.66},{"t":"H","x":0.64,"y":0.67},{"t":"H","x":0.66,"y":0.68},{"t":"H","x":0.68,"y":0.57},{"t":"H","x":0.7,"y":0.73},{"t":"H","x":0.72,"y":0.6},{"t":"H","x":0.74,"y":0.74},{"t":"H","x":0.33,"y":0.27},{"t":"H","x":0.35,"y":0.41},{"t":"H","x":0.29,"y":0.33},{"t":"H","x":0.27,"y":0.28},{"t":"H","x":0.26,"y":0.23},{"t":"H","x":0.43,"y":0.49},{"t":"H","x":0.47,"y":0.41},{"t":"H","x":0.51,"y":0.45},{"t":"H","x":0.55,"y":0.48},{"t":"H","x":0.59,"y":0.63},{"t":"H","x":0.61,"y":0.52},{"t":"H","x":0.63,"y":0.55},{"t":"H","x":0.65,"y":0.56},{"t":"H","x":0.67,"y":0.69},{"t":"H","x":0.69,"y":0.61},{"t":"H","x":0.71,"y":0.7},{"t":"H","x":0.73,"y":0.63},{"t":"H","x":0.76,"y":0.67},{"t":"H","x":0.78,"y":0.68},{"t":"H","x":0.8,"y":0.68},
{"t":"H","x":0.09,"y":0.08},{"t":"H","x":0.095,"y":0.14},{"t":"H","x":0.1,"y":0.05},{"t":"H","x":0.1,"y":0.19},{"t":"H","x":0.102,"y":0.11},{"t":"H","x":0.105,"y":0.24},{"t":"H","x":0.108,"y":0.16},{"t":"H","x":0.11,"y":0.08},{"t":"H","x":0.11,"y":0.21},{"t":"H","x":0.112,"y":0.13},{"t":"H","x":0.115,"y":0.27},{"t":"H","x":0.117,"y":0.1},{"t":"H","x":0.118,"y":0.18},{"t":"H","x":0.12,"y":0.06},{"t":"H","x":0.12,"y":0.23},{"t":"H","x":0.122,"y":0.15},{"t":"H","x":0.124,"y":0.12},{"t":"H","x":0.125,"y":0.2},{"t":"H","x":0.127,"y":0.09},{"t":"H","x":0.128,"y":0.29},{"t":"H","x":0.13,"y":0.17},{"t":"H","x":0.13,"y":0.13},{"t":"H","x":0.098,"y":0.11},{"t":"H","x":0.106,"y":0.03},{"t":"H","x":0.114,"y":0.17},{"t":"H","x":0.119,"y":0.26},{"t":"H","x":0.126,"y":0.22},
{"t":"H","x":0,"y":0.02},{"t":"H","x":0,"y":-0.04},{"t":"H","x":0.002,"y":0.07},{"t":"H","x":0.004,"y":-0.09},{"t":"H","x":0.005,"y":0.01},{"t":"H","x":0.006,"y":0.09},{"t":"H","x":0.008,"y":-0.02},{"t":"H","x":0.01,"y":0.05},{"t":"H","x":0.01,"y":-0.06},{"t":"H","x":0.012,"y":0.03},{"t":"H","x":0.015,"y":0.08},{"t":"H","x":0.015,"y":-0.01},{"t":"H","x":0.018,"y":0.06},{"t":"H","x":0.02,"y":0.02},{"t":"H","x":0.022,"y":0.1},{"t":"H","x":0.025,"y":0.04},{"t":"H","x":0.028,"y":0.07},{"t":"H","x":0.003,"y":0.04},{"t":"H","x":0.007,"y":-0.07},{"t":"H","x":0.012,"y":0},
{"t":"H","x":0.15,"y":0.14},{"t":"H","x":0.17,"y":0.2},{"t":"H","x":0.19,"y":0.17},{"t":"H","x":0.2,"y":0.24},{"t":"H","x":0.22,"y":0.22},
{"t":"B","x":0.78,"y":0.64},{"t":"B","x":0.73,"y":0.62},{"t":"B","x":0.7,"y":0.64},{"t":"B","x":0.67,"y":0.62},{"t":"B","x":0.65,"y":0.6},{"t":"B","x":0.63,"y":0.59},{"t":"B","x":0.6,"y":0.62},{"t":"B","x":0.56,"y":0.46},{"t":"B","x":0.53,"y":0.5},{"t":"B","x":0.45,"y":0.52},{"t":"B","x":0.43,"y":0.49},{"t":"B","x":0.38,"y":0.42},{"t":"B","x":0.3,"y":0.36},{"t":"B","x":0.19,"y":0.35},{"t":"B","x":0.21,"y":0.33},{"t":"B","x":0.25,"y":0.3},{"t":"B","x":0.16,"y":0.22},{"t":"B","x":0.14,"y":0.2},{"t":"B","x":0.17,"y":0.19},{"t":"B","x":0.15,"y":0.17},{"t":"B","x":0.2,"y":0.21},{"t":"B","x":0.12,"y":0.12},{"t":"B","x":0.1,"y":0.07},{"t":"B","x":0.07,"y":0.06},{"t":"B","x":0.05,"y":-0.02},{"t":"B","x":0.04,"y":0},{"t":"B","x":0.06,"y":0.04},{"t":"B","x":0.03,"y":0.03},{"t":"B","x":0.02,"y":0.05},{"t":"B","x":0.58,"y":0.58},{"t":"B","x":0.5,"y":0.47},{"t":"B","x":0.35,"y":0.4},{"t":"B","x":0.71,"y":0.58},{"t":"B","x":0.62,"y":0.55},{"t":"B","x":0.68,"y":0.67},
{"t":"C","x":0.69,"y":0.5},{"t":"C","x":0.74,"y":0.41},{"t":"C","x":0.6,"y":0.44},{"t":"C","x":0.29,"y":0.32},{"t":"C","x":0.19,"y":0.29},{"t":"C","x":0.1,"y":0.19},{"t":"C","x":0.03,"y":0.04},{"t":"C","x":0.05,"y":0.06},{"t":"C","x":0.02,"y":0.01},{"t":"C","x":0.04,"y":0.03},{"t":"C","x":0.03,"y":-0.01},{"t":"C","x":0.06,"y":0.08},{"t":"C","x":0.01,"y":0.02},{"t":"C","x":0.27,"y":0.27},{"t":"C","x":0.08,"y":0.11},
{"t":"L","x":0.03,"y":0.07},{"t":"L","x":0.04,"y":0.08},{"t":"L","x":0.02,"y":0.05},{"t":"L","x":0.57,"y":0.58},{"t":"L","x":0.6,"y":0.5},{"t":"L","x":0.69,"y":0.6},{"t":"L","x":0.29,"y":0.34},{"t":"L","x":0.05,"y":0.03}
],
"H":[
{"t":"B","x":0.79,"y":0.64},{"t":"B","x":0.76,"y":0.69},{"t":"B","x":0.7,"y":0.67},{"t":"B","x":0.66,"y":0.68},{"t":"B","x":0.64,"y":0.66},{"t":"B","x":0.62,"y":0.6},{"t":"B","x":0.59,"y":0.68},{"t":"B","x":0.55,"y":0.67},{"t":"B","x":0.58,"y":0.63},{"t":"B","x":0.6,"y":0.61},{"t":"B","x":0.62,"y":0.58},{"t":"B","x":0.65,"y":0.58},{"t":"B","x":0.67,"y":0.57},{"t":"B","x":0.71,"y":0.57},{"t":"B","x":0.56,"y":0.61},{"t":"B","x":0.53,"y":0.59},{"t":"B","x":0.51,"y":0.55},{"t":"B","x":0.49,"y":0.55},{"t":"B","x":0.47,"y":0.52},{"t":"B","x":0.44,"y":0.55},{"t":"B","x":0.42,"y":0.51},{"t":"B","x":0.41,"y":0.47},{"t":"B","x":0.39,"y":0.45},{"t":"B","x":0.36,"y":0.5},{"t":"B","x":0.37,"y":0.45},{"t":"B","x":0.34,"y":0.47},{"t":"B","x":0.33,"y":0.4},{"t":"B","x":0.31,"y":0.41},{"t":"B","x":0.3,"y":0.36},{"t":"B","x":0.29,"y":0.35},{"t":"B","x":0.26,"y":0.37},{"t":"B","x":0.26,"y":0.33},{"t":"B","x":0.23,"y":0.33},{"t":"B","x":0.22,"y":0.29},{"t":"B","x":0.19,"y":0.36},{"t":"B","x":0.18,"y":0.31},{"t":"B","x":0.17,"y":0.23},{"t":"B","x":0.15,"y":0.22},{"t":"B","x":0.14,"y":0.18},{"t":"B","x":0.12,"y":0.17},{"t":"B","x":0.11,"y":0.13},{"t":"B","x":0.1,"y":0.07},{"t":"B","x":0.09,"y":0.15},{"t":"B","x":0.06,"y":0.11},{"t":"B","x":0.05,"y":-0.02},{"t":"B","x":0.06,"y":0.04},{"t":"B","x":0.03,"y":0.03},{"t":"B","x":0.04,"y":0.07},{"t":"B","x":0.02,"y":0.06},{"t":"B","x":0.02,"y":0.09},{"t":"B","x":0.46,"y":0.48},{"t":"B","x":0.38,"y":0.41},{"t":"B","x":0.3,"y":0.39},{"t":"B","x":0.52,"y":0.62},{"t":"B","x":0.65,"y":0.65},{"t":"B","x":0.01,"y":0.04},{"t":"B","x":0,"y":0.02},{"t":"B","x":0.015,"y":0},{"t":"B","x":0.045,"y":0.06},{"t":"B","x":0.055,"y":0.05},{"t":"B","x":0.035,"y":0.08},
{"t":"C","x":0.667,"y":0.497},{"t":"C","x":0.725,"y":0.413},{"t":"C","x":0.58,"y":0.44},{"t":"C","x":0.28,"y":0.32},{"t":"C","x":0.26,"y":0.26},{"t":"C","x":0.27,"y":0.27},{"t":"C","x":0.19,"y":0.29},{"t":"C","x":0.1,"y":0.18},{"t":"C","x":0.09,"y":0.14},{"t":"C","x":0.08,"y":0.13},{"t":"C","x":0.06,"y":0.12},{"t":"C","x":0.05,"y":0.07},{"t":"C","x":0.04,"y":0.05},{"t":"C","x":0.03,"y":0.06},{"t":"C","x":0.02,"y":0.04},{"t":"C","x":0.01,"y":0.02},{"t":"C","x":0.01,"y":-0.01},{"t":"C","x":0.015,"y":-0.03},{"t":"C","x":0.005,"y":-0.05},{"t":"C","x":0.02,"y":0},{"t":"C","x":0.03,"y":0.02},{"t":"C","x":0.04,"y":0.01},{"t":"C","x":0.05,"y":0.04},{"t":"C","x":0,"y":0.03},{"t":"C","x":0,"y":-0.02},{"t":"C","x":0.06,"y":0.03},
{"t":"L","x":0.57,"y":0.58},{"t":"L","x":0.61,"y":0.51},{"t":"L","x":0.69,"y":0.62},{"t":"L","x":0.71,"y":0.59},{"t":"L","x":0.6,"y":0.54},{"t":"L","x":0.29,"y":0.35},{"t":"L","x":0.19,"y":0.21},{"t":"L","x":0.03,"y":0.07},{"t":"L","x":0.04,"y":0.06},{"t":"L","x":0.02,"y":0.05},{"t":"L","x":0.05,"y":0.08},{"t":"L","x":0.03,"y":0.02}
]
},
"bounds":"flush",
"columns":3,
"spacing":{"row":77,"column":56},
"resolve":{"scale":{"color":"independent"}},
"concat":[
{"width":199,"height":189,"title":{"text":["VervetMonkey PanTissue (N=240)","MAE=0.967, cor=0.97"],"offset":-12},
"layer":[
{"encoding":{"x":{"field":"x","type":"quantitative","scale":{"domain":[-3,26.85],"nice":false,"zero":false},"axis":{"title":"Age","values":[0,5,10,15,20,25]}},"y":{"field":"y","type":"quantitative","scale":{"domain":[-3.4,27],"nice":false,"zero":false},"axis":{"title":"DNAmAgeLOO Pan Tissue","values":[0,5,10,15,20,25]}}},
"layer":[
{"data":{"name":"A"},"mark":{"type":"circle","size":9,"opacity":1},"encoding":{"color":{"field":"t","type":"nominal","scale":{"domain":["B","C","L","H"],"range":["#1B9E77","#D95F02","#7570B3","#E7298A"]},"legend":null}}},
{"data":{"name":"lines"},"transform":[{"filter":"datum.panel=='A' && datum.kind=='identity'"}],"mark":{"type":"line","clip":true,"color":"#888","strokeWidth":1.2,"strokeDash":[5,4]},"encoding":{}},
{"data":{"name":"lines"},"transform":[{"filter":"datum.panel=='A' && datum.kind=='fit'"}],"mark":{"type":"line","clip":true,"color":"#555","strokeWidth":1.3},"encoding":{}}
]},
{"data":{"values":[{"letter":"A"}]},"mark":{"type":"text","align":"left","baseline":"bottom","dx":-2,"dy":-1,"fontSize":14,"fontWeight":"bold","font":"Liberation Sans","color":"#111"},
"encoding":{"x":{"datum":-3,"type":"quantitative","scale":{"domain":[-3,26.85],"nice":false,"zero":false},"axis":{"title":"Age","values":[0,5,10,15,20,25]}},"y":{"datum":27,"type":"quantitative","scale":{"domain":[-3.4,27],"nice":false,"zero":false},"axis":{"title":"DNAmAgeLOO Pan Tissue","values":[0,5,10,15,20,25]}},"text":{"field":"letter"}}}
]},
{"width":199,"height":189,"title":{"text":["VervetMonkey Blood (N=144)","MAE=1.11, cor=0.98"],"offset":-12},
"layer":[
{"encoding":{"x":{"field":"x","type":"quantitative","scale":{"domain":[-3.2,26.9],"nice":false,"zero":false},"axis":{"title":"Age","values":[0,5,10,15,20,25]}},"y":{"field":"y","type":"quantitative","scale":{"domain":[-3.4,27],"nice":false,"zero":false},"axis":{"title":"DNAmAgeLOO Blood","values":[0,5,10,15,20,25]}}},
"layer":[
{"data":{"name":"B"},"mark":{"type":"circle","size":9,"opacity":1},"encoding":{"color":{"field":"t","type":"nominal","scale":{"domain":["B","C","L","H"],"range":["#1B9E77","#D95F02","#7570B3","#E7298A"]},"legend":null}}},
{"data":{"name":"lines"},"transform":[{"filter":"datum.panel=='B' && datum.kind=='identity'"}],"mark":{"type":"line","clip":true,"color":"#888","strokeWidth":1.2,"strokeDash":[5,4]},"encoding":{}},
{"data":{"name":"lines"},"transform":[{"filter":"datum.panel=='B' && datum.kind=='fit'"}],"mark":{"type":"line","clip":true,"color":"#555","strokeWidth":1.3},"encoding":{}}
]},
{"data":{"values":[{"letter":"B"}]},"mark":{"type":"text","align":"left","baseline":"bottom","dx":-2,"dy":-1,"fontSize":14,"fontWeight":"bold","font":"Liberation Sans","color":"#111"},
"encoding":{"x":{"datum":-3.2,"type":"quantitative","scale":{"domain":[-3.2,26.9],"nice":false,"zero":false},"axis":{"title":"Age","values":[0,5,10,15,20,25]}},"y":{"datum":27,"type":"quantitative","scale":{"domain":[-3.4,27],"nice":false,"zero":false},"axis":{"title":"DNAmAgeLOO Blood","values":[0,5,10,15,20,25]}},"text":{"field":"letter"}}}
]},
{"width":199,"height":189,"title":{"text":["VervetMonkey Cortex (N=48)","MAE=0.481, cor=0.96"],"offset":-12},
"layer":[
{"encoding":{"x":{"field":"x","type":"quantitative","scale":{"domain":[-2,24.7],"nice":false,"zero":false},"axis":{"title":"Age","values":[0,5,10,15,20]}},"y":{"field":"y","type":"quantitative","scale":{"domain":[-2.2,24.6],"nice":false,"zero":false},"axis":{"title":"DNAmAgeLOO Cortex","values":[0,5,10,15,20]}}},
"layer":[
{"data":{"name":"C"},"mark":{"type":"circle","size":9,"opacity":1},"encoding":{"color":{"field":"t","type":"nominal","scale":{"domain":["B","C","L","H"],"range":["#1B9E77","#D95F02","#7570B3","#E7298A"]},"legend":null}}},
{"data":{"name":"lines"},"transform":[{"filter":"datum.panel=='C' && datum.kind=='identity'"}],"mark":{"type":"line","clip":true,"color":"#888","strokeWidth":1.2,"strokeDash":[5,4]},"encoding":{}},
{"data":{"name":"lines"},"transform":[{"filter":"datum.panel=='C' && datum.kind=='fit'"}],"mark":{"type":"line","clip":true,"color":"#555","strokeWidth":1.3},"encoding":{}}
]},
{"data":{"values":[{"letter":"C"}]},"mark":{"type":"text","align":"left","baseline":"bottom","dx":-2,"dy":-1,"fontSize":14,"fontWeight":"bold","font":"Liberation Sans","color":"#111"},
"encoding":{"x":{"datum":-2,"type":"quantitative","scale":{"domain":[-2,24.7],"nice":false,"zero":false},"axis":{"title":"Age","values":[0,5,10,15,20]}},"y":{"datum":24.6,"type":"quantitative","scale":{"domain":[-2.2,24.6],"nice":false,"zero":false},"axis":{"title":"DNAmAgeLOO Cortex","values":[0,5,10,15,20]}},"text":{"field":"letter"}}}
]},
{"width":199,"height":189,"title":{"text":["VervetMonkey Liver (N=48)","MAE=0.228, cor=0.99"],"offset":-12},
"layer":[
{"encoding":{"x":{"field":"x","type":"quantitative","scale":{"domain":[-1.7,23.2],"nice":false,"zero":false},"axis":{"title":"Age","values":[0,5,10,15,20]}},"y":{"field":"y","type":"quantitative","scale":{"domain":[-1.9,23.3],"nice":false,"zero":false},"axis":{"title":"DNAmAgeLOO Liver","values":[0,5,10,15,20]}}},
"layer":[
{"data":{"name":"D"},"mark":{"type":"circle","size":9,"opacity":1},"encoding":{"color":{"field":"t","type":"nominal","scale":{"domain":["B","C","L","H"],"range":["#1B9E77","#D95F02","#7570B3","#E7298A"]},"legend":null}}},
{"data":{"name":"lines"},"transform":[{"filter":"datum.panel=='D' && datum.kind=='identity'"}],"mark":{"type":"line","clip":true,"color":"#888","strokeWidth":1.2,"strokeDash":[5,4]},"encoding":{}},
{"data":{"name":"lines"},"transform":[{"filter":"datum.panel=='D' && datum.kind=='fit'"}],"mark":{"type":"line","clip":true,"color":"#555","strokeWidth":1.3},"encoding":{}}
]},
{"data":{"values":[{"letter":"D"}]},"mark":{"type":"text","align":"left","baseline":"bottom","dx":-2,"dy":-1,"fontSize":14,"fontWeight":"bold","font":"Liberation Sans","color":"#111"},
"encoding":{"x":{"datum":-1.7,"type":"quantitative","scale":{"domain":[-1.7,23.2],"nice":false,"zero":false},"axis":{"title":"Age","values":[0,5,10,15,20]}},"y":{"datum":23.3,"type":"quantitative","scale":{"domain":[-1.9,23.3],"nice":false,"zero":false},"axis":{"title":"DNAmAgeLOO Liver","values":[0,5,10,15,20]}},"text":{"field":"letter"}}}
]},
{"width":199,"height":189,"title":{"text":["HumanVervetMonkey PanTissue (N=1451)","MAE=1.78, cor=0.99"],"offset":-12},
"layer":[
{"encoding":{"x":{"field":"x","type":"quantitative","scale":{"domain":[-8.8,108.2],"nice":false,"zero":false},"axis":{"title":"Age","values":[0,20,40,60,80,100]}},"y":{"field":"y","type":"quantitative","scale":{"domain":[-9.1,108.1],"nice":false,"zero":false},"axis":{"title":"DNAmAgeLOFO10 HumanVervetMonkey","values":[0,20,40,60,80,100]}}},
"layer":[
{"data":{"name":"E"},"mark":{"type":"circle","size":10,"opacity":1},"encoding":{"color":{"field":"t","type":"nominal","scale":{"domain":["B","C","L","H"],"range":["#1B9E77","#D95F02","#7570B3","#E7298A"]},"legend":null}}},
{"data":{"name":"lines"},"transform":[{"filter":"datum.panel=='E' && datum.kind=='identity'"}],"mark":{"type":"line","clip":true,"color":"#888","strokeWidth":1.2,"strokeDash":[5,4]},"encoding":{}},
{"data":{"name":"lines"},"transform":[{"filter":"datum.panel=='E' && datum.kind=='fit'"}],"mark":{"type":"line","clip":true,"color":"#333","strokeWidth":1.3},"encoding":{}}
]},
{"data":{"values":[{"letter":"E"}]},"mark":{"type":"text","align":"left","baseline":"bottom","dx":-2,"dy":-1,"fontSize":14,"fontWeight":"bold","font":"Liberation Sans","color":"#111"},
"encoding":{"x":{"datum":-8.8,"type":"quantitative","scale":{"domain":[-8.8,108.2],"nice":false,"zero":false},"axis":{"title":"Age","values":[0,20,40,60,80,100]}},"y":{"datum":108.1,"type":"quantitative","scale":{"domain":[-9.1,108.1],"nice":false,"zero":false},"axis":{"title":"DNAmAgeLOFO10 HumanVervetMonkey","values":[0,20,40,60,80,100]}},"text":{"field":"letter"}}}
]},
{"width":199,"height":189,"title":{"text":["VervetMonkey PanTissue (N=240)","MAE=0.55, cor=0.98"],"offset":-12},
"layer":[
{"encoding":{"x":{"field":"x","type":"quantitative","scale":{"domain":[-2.3,26.6],"nice":false,"zero":false},"axis":{"title":"Age","values":[0,5,10,15,20,25]}},"y":{"field":"y","type":"quantitative","scale":{"domain":[-2.5,26.8],"nice":false,"zero":false},"axis":{"title":"DNAmAgeLOFO10 HumanVervetMonkey","values":[0,5,10,15,20,25]}}},
"layer":[
{"data":{"name":"F"},"mark":{"type":"circle","size":9,"opacity":1},"encoding":{"color":{"field":"t","type":"nominal","scale":{"domain":["B","C","L","H"],"range":["#1B9E77","#D95F02","#7570B3","#E7298A"]},"legend":null}}},
{"data":{"name":"lines"},"transform":[{"filter":"datum.panel=='F' && datum.kind=='identity'"}],"mark":{"type":"line","clip":true,"color":"#888","strokeWidth":1.2,"strokeDash":[5,4]},"encoding":{}},
{"data":{"name":"lines"},"transform":[{"filter":"datum.panel=='F' && datum.kind=='fit'"}],"mark":{"type":"line","clip":true,"color":"#555","strokeWidth":1.3},"encoding":{}}
]},
{"data":{"values":[{"letter":"F"}]},"mark":{"type":"text","align":"left","baseline":"bottom","dx":-2,"dy":-1,"fontSize":14,"fontWeight":"bold","font":"Liberation Sans","color":"#111"},
"encoding":{"x":{"datum":-2.3,"type":"quantitative","scale":{"domain":[-2.3,26.6],"nice":false,"zero":false},"axis":{"title":"Age","values":[0,5,10,15,20,25]}},"y":{"datum":26.8,"type":"quantitative","scale":{"domain":[-2.5,26.8],"nice":false,"zero":false},"axis":{"title":"DNAmAgeLOFO10 HumanVervetMonkey","values":[0,5,10,15,20,25]}},"text":{"field":"letter"}}}
]},
{"width":199,"height":191,"view":{"stroke":null},
"data":{"values":[{"t":"B"},{"t":"C"},{"t":"L"},{"t":"H"}]},
"mark":{"type":"circle","opacity":0},
"encoding":{"color":{"field":"t","type":"nominal","scale":{"domain":["B","C","L","H"],"range":["#1B9E77","#D95F02","#7570B3","#E7298A"]},
"legend":{"title":null,"orient":"top-left","offset":1,"labelExpr":"{'B':'Chlorocebus aethiops sabaeus.Blood','C':'Chlorocebus aethiops sabaeus.Cortex','L':'Chlorocebus aethiops sabaeus.Liver','H':'Homo sapiens'}[datum.value]","strokeColor":"#999","padding":7,"symbolType":"circle","symbolSize":60,"symbolOpacity":1,"symbolStrokeWidth":0,"labelFont":"Liberation Sans","labelFontSize":10,"labelColor":"#333","labelLimit":300,"labelOffset":5,"rowPadding":2.5}}}},
{"width":199,"height":191,"title":{"text":["HumanVervetMonkey PanTissue (N=1451)","MAE=0.0224, cor=0.98"],"offset":-27},
"layer":[
{"encoding":{"x":{"field":"x","type":"quantitative","scale":{"domain":[-0.17,0.88],"nice":false,"zero":false},"axis":{"title":"RelativeAge","values":[0,0.2,0.4,0.6,0.8],"format":".1f"}},"y":{"field":"y","type":"quantitative","scale":{"domain":[-0.17,0.91],"nice":false,"zero":false},"axis":{"title":"DNAmRelativeAgeLOFO10 HumanVervetMonkey","values":[0,0.2,0.4,0.6,0.8],"format":".1f"}}},
"layer":[
{"data":{"name":"G"},"mark":{"type":"circle","size":10,"opacity":1},"encoding":{"color":{"field":"t","type":"nominal","scale":{"domain":["B","C","L","H"],"range":["#1B9E77","#D95F02","#7570B3","#E7298A"]},"legend":null}}},
{"data":{"name":"lines"},"transform":[{"filter":"datum.panel=='G' && datum.kind=='identity'"}],"mark":{"type":"line","clip":true,"color":"#888","strokeWidth":1.2,"strokeDash":[5,4]},"encoding":{}},
{"data":{"name":"lines"},"transform":[{"filter":"datum.panel=='G' && datum.kind=='fit'"}],"mark":{"type":"line","clip":true,"color":"#333","strokeWidth":1.3},"encoding":{}}
]},
{"data":{"values":[{"letter":"G"}]},"mark":{"type":"text","align":"left","baseline":"bottom","dx":-2,"dy":-1,"fontSize":13,"fontWeight":"bold","font":"Liberation Sans","color":"#111"},
"encoding":{"x":{"datum":-0.17,"type":"quantitative","scale":{"domain":[-0.17,0.88],"nice":false,"zero":false},"axis":{"title":"RelativeAge","values":[0,0.2,0.4,0.6,0.8],"format":".1f"}},"y":{"datum":0.91,"type":"quantitative","scale":{"domain":[-0.17,0.91],"nice":false,"zero":false},"axis":{"title":"DNAmRelativeAgeLOFO10 HumanVervetMonkey","values":[0,0.2,0.4,0.6,0.8],"format":".1f"}},"text":{"field":"letter"}}}
]},
{"width":199,"height":191,"title":{"text":["VervetMonkey PanTissue (N=240)","MAE=0.0274, cor=0.98"],"offset":-27},
"layer":[
{"encoding":{"x":{"field":"x","type":"quantitative","scale":{"domain":[-0.11,0.85],"nice":false,"zero":false},"axis":{"title":"RelativeAge","values":[0,0.2,0.4,0.6,0.8],"format":".1f"}},"y":{"field":"y","type":"quantitative","scale":{"domain":[-0.12,0.88],"nice":false,"zero":false},"axis":{"title":"DNAmRelativeAgeLOFO10 HumanVervetMonkey","values":[0,0.2,0.4,0.6,0.8],"format":".1f"}}},
"layer":[
{"data":{"name":"H"},"mark":{"type":"circle","size":9,"opacity":1},"encoding":{"color":{"field":"t","type":"nominal","scale":{"domain":["B","C","L","H"],"range":["#1B9E77","#D95F02","#7570B3","#E7298A"]},"legend":null}}},
{"data":{"name":"lines"},"transform":[{"filter":"datum.panel=='H' && datum.kind=='identity'"}],"mark":{"type":"line","clip":true,"color":"#888","strokeWidth":1.2,"strokeDash":[5,4]},"encoding":{}},
{"data":{"name":"lines"},"transform":[{"filter":"datum.panel=='H' && datum.kind=='fit'"}],"mark":{"type":"line","clip":true,"color":"#555","strokeWidth":1.3},"encoding":{}}
]},
{"data":{"values":[{"letter":"H"}]},"mark":{"type":"text","align":"left","baseline":"bottom","dx":-2,"dy":-1,"fontSize":13,"fontWeight":"bold","font":"Liberation Sans","color":"#111"},
"encoding":{"x":{"datum":-0.11,"type":"quantitative","scale":{"domain":[-0.11,0.85],"nice":false,"zero":false},"axis":{"title":"RelativeAge","values":[0,0.2,0.4,0.6,0.8],"format":".1f"}},"y":{"datum":0.88,"type":"quantitative","scale":{"domain":[-0.12,0.88],"nice":false,"zero":false},"axis":{"title":"DNAmRelativeAgeLOFO10 HumanVervetMonkey","values":[0,0.2,0.4,0.6,0.8],"format":".1f"}},"text":{"field":"letter"}}}
]}
]
}
